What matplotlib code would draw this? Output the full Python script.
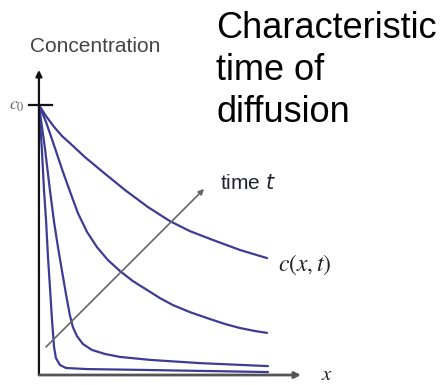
import matplotlib
matplotlib.use("Agg")
import matplotlib.pyplot as plt

plt.rcParams['font.family'] = ['Liberation Sans', 'DejaVu Sans']
plt.rcParams['mathtext.fontset'] = 'stix'

# concentration profiles c/c0 against x/L, earliest time first
x1 = [0.0, 0.013, 0.022, 0.031, 0.039, 0.048, 0.057, 0.066, 0.074, 0.092, 0.118, 0.210, 0.441, 1.0]
c1 = [1.0, 0.833, 0.685, 0.574, 0.444, 0.326, 0.204, 0.104, 0.063, 0.037, 0.026, 0.022, 0.019, 0.011]

x2 = [0.0, 0.026, 0.048, 0.066, 0.083, 0.100, 0.118, 0.135, 0.148, 0.166, 0.192, 0.231, 0.288,
      0.354, 0.485, 0.703, 1.0]
c2 = [1.0, 0.841, 0.685, 0.567, 0.474, 0.389, 0.300, 0.222, 0.178, 0.144, 0.115, 0.093, 0.078,
      0.067, 0.056, 0.044, 0.033]

x3 = [0.0, 0.031, 0.061, 0.105, 0.135, 0.170, 0.210, 0.253, 0.301, 0.354, 0.410, 0.472, 0.528,
      0.585, 0.659, 0.734, 0.812, 0.878, 0.943, 0.996]
c3 = [1.0, 0.937, 0.863, 0.752, 0.681, 0.600, 0.530, 0.474, 0.426, 0.385, 0.348, 0.315, 0.285,
      0.259, 0.233, 0.211, 0.189, 0.174, 0.163, 0.156]

x4 = [0.0, 0.031, 0.066, 0.101, 0.135, 0.201, 0.279, 0.376, 0.476, 0.572, 0.659, 0.760, 0.878, 0.996]
c4 = [1.0, 0.959, 0.919, 0.885, 0.859, 0.807, 0.752, 0.685, 0.622, 0.570, 0.533, 0.500, 0.463, 0.433]

profiles = [(x1, c1), (x2, c2), (x3, c3), (x4, c4)]

fig = plt.figure(figsize=(4.48, 3.85), dpi=100)
ax = fig.add_axes([0, 0, 1, 1])
ax.set_xlim(-0.170, 1.786)
ax.set_ylim(-0.037, 1.389)
ax.axis('off')

line_col = '#3c3c96'
for xs, cs in profiles:
    ax.plot(xs, cs, color=line_col, lw=1.6, solid_capstyle='round', solid_joinstyle='round')

# axes with arrow heads
ax.annotate('', xy=(0, 1.13), xytext=(0, 0),
            arrowprops=dict(arrowstyle='-|>', color='#111111', lw=1.6,
                            mutation_scale=9, shrinkA=0, shrinkB=0))
ax.annotate('', xy=(1.144, 0), xytext=(0, 0),
            arrowprops=dict(arrowstyle='-|>', color='#555555', lw=2.0,
                            mutation_scale=9, shrinkA=0, shrinkB=0))

# c0 tick
ax.plot([-0.044, 0.057], [1.0, 1.0], color='#111111', lw=1.6)
ax.text(-0.095, 1.0, '$c_0$', color='#666666', fontsize=13, ha='center', va='center')

# time arrow
ax.annotate('', xy=(0.721, 0.689), xytext=(0.031, 0.104),
            arrowprops=dict(arrowstyle='-|>', color='#666666', lw=1.2,
                            mutation_scale=8, shrinkA=0, shrinkB=0))
ax.text(0.790, 0.711, r'time $\mathit{t}$', fontsize=15, color='#222233',
        ha='left', va='center', math_fontfamily='dejavusans')

ax.text(1.044, 0.407, '$c(x,t)$', fontsize=17, color='#222222', ha='left', va='center')
ax.text(1.258, -0.018, '$x$', fontsize=15, color='#222222', ha='center', va='baseline')

ax.text(0.245, 1.215, 'Concentration', fontsize=15, color='#444444', ha='center', va='center')

fig.text(216 / 448, 1 - 11 / 385, 'Characteristic\ntime of\ndiffusion', fontsize=26,
         color='black', ha='left', va='top', linespacing=1.25)

fig.savefig('out.png', dpi=100, facecolor='white')
